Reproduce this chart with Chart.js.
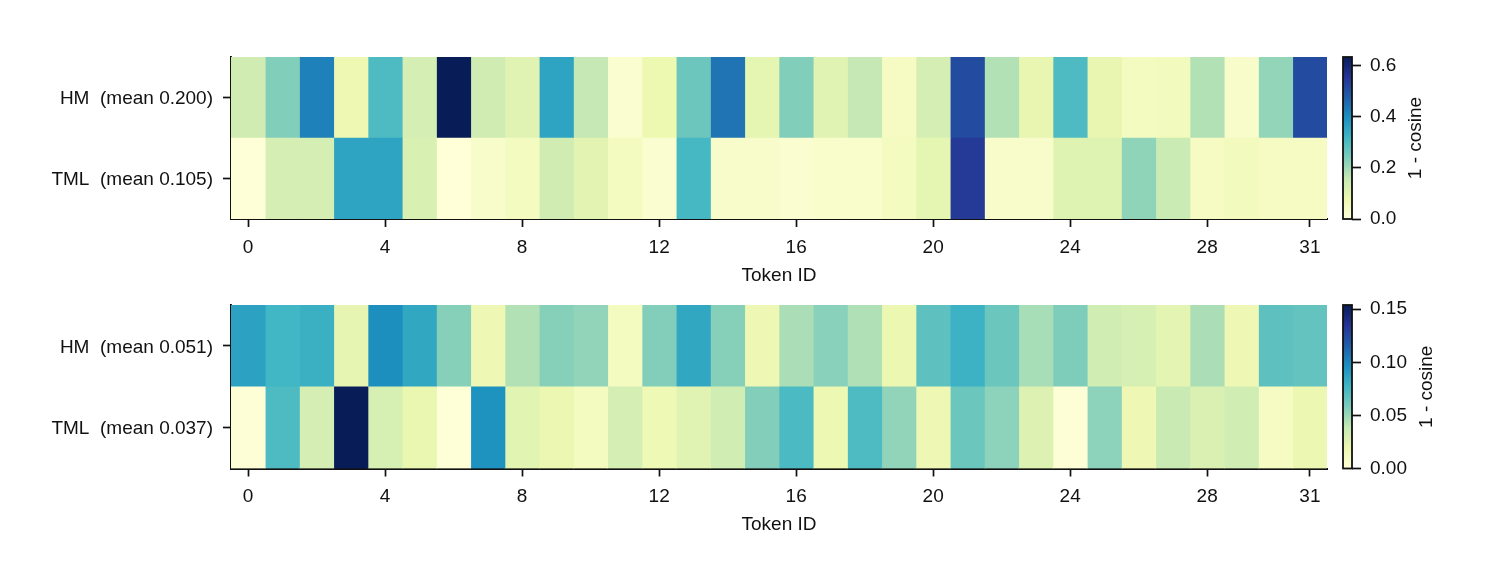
<!DOCTYPE html>
<html>
<head>
<meta charset="utf-8">
<script src="https://cdn.jsdelivr.net/npm/chart.js@4.4.1/dist/chart.umd.min.js"></script>
<style>
  html, body { margin: 0; background: #fff; }
  #wrap { position: relative; width: 1506px; height: 576px; }
  canvas { position: absolute; }
</style>
</head>
<body>
<div id="wrap">
  <canvas id="heatTop" width="1335" height="290" style="left:0;top:0"></canvas>
  <canvas id="cbarTop" width="171" height="290" style="left:1335px;top:0"></canvas>
  <canvas id="heatBot" width="1335" height="326" style="left:0;top:250px"></canvas>
  <canvas id="cbarBot" width="171" height="326" style="left:1335px;top:250px"></canvas>
</div>
<script>
// token ids along the x axis
const tokenIds = [0, 1, 2, 3, 4, 5, 6, 7, 8, 9, 10, 11, 12, 13, 14, 15,
  16, 17, 18, 19, 20, 21, 22, 23, 24, 25, 26, 27, 28, 29, 30, 31];
const xTickValues = [0, 4, 8, 12, 16, 20, 24, 28, 31];

// panel 1
const topRowLabels = ["HM  (mean 0.200)", "TML  (mean 0.105)"];
const topHM = [0.140, 0.235, 0.420, 0.076, 0.300, 0.130, 0.633, 0.140, 0.105, 0.355, 0.160, 0.020,
  0.080, 0.260, 0.440, 0.095, 0.235, 0.105, 0.160, 0.045, 0.130, 0.510, 0.180, 0.088,
  0.300, 0.088, 0.050, 0.055, 0.180, 0.030, 0.215, 0.510];
const topTML = [0.003, 0.130, 0.130, 0.355, 0.355, 0.120, 0.002, 0.030, 0.050, 0.140, 0.100, 0.050,
  0.020, 0.310, 0.030, 0.030, 0.020, 0.025, 0.025, 0.050, 0.095, 0.545, 0.030, 0.030,
  0.110, 0.110, 0.220, 0.150, 0.045, 0.055, 0.045, 0.045];
const topCbarTicks = [0, 0.2, 0.4, 0.6];

// panel 2
const botRowLabels = ["HM  (mean 0.051)", "TML  (mean 0.037)"];
const botHM = [0.088, 0.077, 0.080, 0.023, 0.097, 0.085, 0.056, 0.018, 0.044, 0.056, 0.053, 0.012,
  0.057, 0.085, 0.056, 0.018, 0.046, 0.055, 0.045, 0.020, 0.068, 0.079, 0.064, 0.047,
  0.058, 0.034, 0.031, 0.024, 0.046, 0.018, 0.068, 0.066];
const botTML = [0.002, 0.073, 0.032, 0.154, 0.031, 0.021, 0.001, 0.095, 0.025, 0.020, 0.012, 0.032,
  0.017, 0.026, 0.034, 0.057, 0.074, 0.019, 0.073, 0.053, 0.018, 0.064, 0.054, 0.028,
  0.002, 0.054, 0.018, 0.037, 0.029, 0.034, 0.011, 0.020];
const botCbarTicks = [0, 0.05, 0.1, 0.15];

const INK = "#111111";
const FONT_SIZE = 19;
const FONT_FAMILY = "'Liberation Sans', Arial, sans-serif";
const font = { size: FONT_SIZE, family: FONT_FAMILY };
Chart.defaults.font.family = FONT_FAMILY;

// matplotlib YlGnBu
const YLGNBU = ["#ffffd9", "#edf8b1", "#c7e9b4", "#7fcdbb", "#41b6c4",
  "#1d91c0", "#225ea8", "#253494", "#081d58"];

function hexToRgb(h) {
  return [1, 3, 5].map((i) => parseInt(h.slice(i, i + 2), 16));
}

function ylGnBu(t) {
  t = Math.max(0, Math.min(1, t));
  const pos = t * (YLGNBU.length - 1);
  const i = Math.min(Math.floor(pos), YLGNBU.length - 2);
  const f = pos - i;
  const a = hexToRgb(YLGNBU[i]);
  const b = hexToRgb(YLGNBU[i + 1]);
  const c = a.map((v, k) => Math.round(v + (b[k] - v) * f));
  return `rgb(${c[0]}, ${c[1]}, ${c[2]})`;
}

function renderHeatmap(canvas, rowLabels, rows, vmax, frame) {
  return new Chart(canvas, {
    type: "bar",
    data: {
      labels: rowLabels,
      datasets: tokenIds.map((t) => ({
        data: rows.map(() => [t - 0.5, t + 0.5]),
        backgroundColor: rows.map((r) => ylGnBu(r[t] / vmax)),
        borderWidth: 0,
        grouped: false,
        categoryPercentage: 1,
        barPercentage: 1,
      })),
    },
    options: {
      indexAxis: "y",
      responsive: false,
      animation: false,
      events: [],
      layout: { padding: { top: frame.top, right: frame.right, bottom: frame.bottom, left: 0 } },
      plugins: { legend: { display: false }, tooltip: { enabled: false } },
      scales: {
        x: {
          type: "linear",
          min: tokenIds[0] - 0.5,
          max: tokenIds[tokenIds.length - 1] + 0.5,
          afterBuildTicks: (s) => { s.ticks = xTickValues.map((v) => ({ value: v })); },
          afterFit: (s) => { s.height = frame.xAxis; },
          grid: { drawOnChartArea: false, tickLength: 8, tickWidth: 1.7, tickColor: INK },
          border: { color: INK, width: 1.9 },
          ticks: { color: INK, font, padding: 9, maxRotation: 0, autoSkip: false, callback: (v) => String(v) },
          title: { display: true, text: "Token ID", color: INK, font, padding: 0 },
        },
        y: {
          type: "category",
          afterFit: (s) => { s.width = frame.yAxis; },
          grid: { offset: false, drawOnChartArea: false, tickLength: 8, tickWidth: 1.7, tickColor: INK },
          border: { color: INK, width: 1.9 },
          ticks: { color: INK, font, padding: 10, labelOffset: 1.5 },
        },
      },
    },
  });
}

// colorbar frame + rotated "1 - cosine" label
const cbarTitle = {
  id: "cbarTitle",
  afterDraw(chart) {
    const s = chart.scales.y;
    const { ctx, chartArea } = chart;
    ctx.save();
    ctx.strokeStyle = INK;
    ctx.lineWidth = 1.8;
    ctx.strokeRect(chartArea.left, chartArea.top, chartArea.right - chartArea.left, chartArea.bottom - chartArea.top);
    ctx.font = `${FONT_SIZE}px ${FONT_FAMILY}`;
    const widest = Math.max(...s.ticks.map((t) => ctx.measureText(t.label).width));
    const x = s.left + 18 + widest + 10 + FONT_SIZE / 2;
    ctx.translate(x, (chartArea.top + chartArea.bottom) / 2);
    ctx.rotate(-Math.PI / 2);
    ctx.fillStyle = INK;
    ctx.textAlign = "center";
    ctx.textBaseline = "middle";
    ctx.fillText("1 - cosine", 0, 0);
    ctx.restore();
  },
};

function cbarGradient(chart) {
  const area = chart.chartArea;
  if (!area) return YLGNBU[4];
  const g = chart.ctx.createLinearGradient(0, area.bottom, 0, area.top);
  YLGNBU.forEach((c, i) => g.addColorStop(i / (YLGNBU.length - 1), c));
  return g;
}

function renderColorbar(canvas, vmax, tickValues, digits, frame) {
  return new Chart(canvas, {
    type: "bar",
    data: {
      labels: [""],
      datasets: [{
        data: [[0, vmax]],
        backgroundColor: (c) => cbarGradient(c.chart),
        borderWidth: 0,
        inflateAmount: 0,
        categoryPercentage: 1,
        barPercentage: 1,
      }],
    },
    options: {
      responsive: false,
      animation: false,
      events: [],
      layout: { padding: { top: frame.top, bottom: frame.bottom, left: 8, right: 0 } },
      plugins: { legend: { display: false }, tooltip: { enabled: false } },
      scales: {
        x: { display: false },
        y: {
          position: "right",
          min: 0,
          max: vmax,
          afterBuildTicks: (s) => { s.ticks = tickValues.map((v) => ({ value: v })); },
          afterFit: (s) => { s.width = 154; },
          grid: { drawOnChartArea: false, tickLength: 9, tickWidth: 1.7, tickColor: INK },
          border: { display: false },
          ticks: { color: INK, font, padding: 9, callback: (v) => v.toFixed(digits) },
        },
      },
    },
    plugins: [cbarTitle],
  });
}

const topMax = Math.max(...topHM, ...topTML);
const botMax = Math.max(...botHM, ...botTML);

renderHeatmap(document.getElementById("heatTop"), topRowLabels, [topHM, topTML], topMax,
  { top: 57, right: 8, bottom: 3, xAxis: 68, yAxis: 231 });
renderColorbar(document.getElementById("cbarTop"), topMax, topCbarTicks, 1,
  { top: 57, bottom: 71 });
renderHeatmap(document.getElementById("heatBot"), botRowLabels, [botHM, botTML], botMax,
  { top: 55, right: 8, bottom: 39.5, xAxis: 68, yAxis: 231 });
renderColorbar(document.getElementById("cbarBot"), botMax, botCbarTicks, 2,
  { top: 55, bottom: 107.5 });
</script>
</body>
</html>
